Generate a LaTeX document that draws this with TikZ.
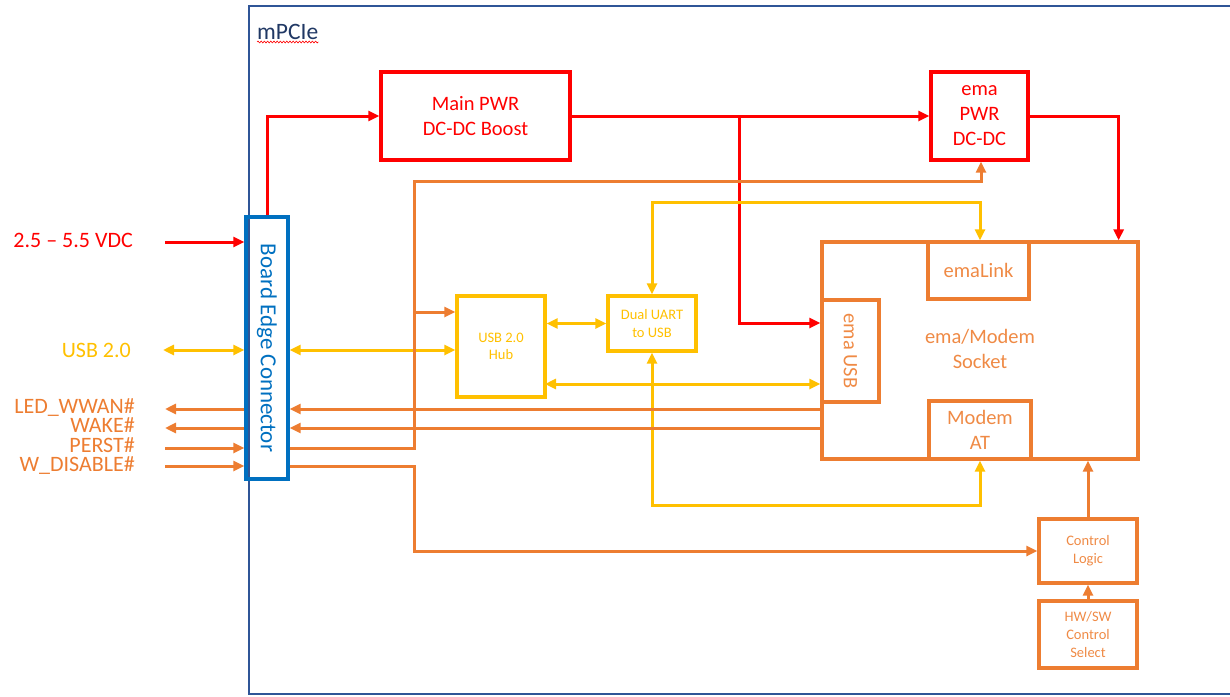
\documentclass[tikz,border=0pt]{standalone}
\usepackage{fontspec}
\setmainfont{Carlito}
\usetikzlibrary{arrows.meta,calc,decorations.pathmorphing}
\definecolor{cRed}{HTML}{FF0000}
\definecolor{cOrange}{HTML}{ED7D31}
\definecolor{cOrangeT}{HTML}{EF8A45}
\definecolor{cYellow}{HTML}{FFC000}
\definecolor{cBlue}{HTML}{0070C0}
\definecolor{cFrame}{HTML}{2F5597}
\definecolor{cTitle}{HTML}{203864}
\tikzset{
  box/.style={draw, line width=3.3pt, inner sep=0pt, align=center, rectangle},
  redbox/.style={box, draw=cRed, text=cRed, font=\fontsize{20.5}{25}\selectfont},
  orbox/.style={box, draw=cOrange, text=cOrangeT, font=\fontsize{20.5}{24.5}\selectfont},
  orsmall/.style={box, draw=cOrange, text=cOrangeT, font=\fontsize{14.5}{17.8}\selectfont},
  yebox/.style={box, draw=cYellow, text=cYellow, font=\fontsize{14.5}{17.5}\selectfont},
  conn/.style={line width=3pt, -{Triangle[length=11pt,width=10pt]}},
  bconn/.style={line width=3pt, {Triangle[length=11pt,width=10pt]}-{Triangle[length=11pt,width=10pt]}},
  lbl/.style={inner sep=0pt, font=\fontsize{22}{24}\selectfont, anchor=base east},
}
\begin{document}
\begin{tikzpicture}[x=1pt,y=-1pt]
\useasboundingbox (0,0) rectangle (1230,696);
% outer frame
\draw[cFrame, line width=2.8pt] (1232,6) -- (249,6) -- (249,694) -- (1232,694);
\node[inner sep=0pt, anchor=base west, text=cTitle, font=\fontsize{23.5}{26}\selectfont] (title) at (257,39) {mPCIe};
\draw[cRed, line width=0.6pt, decorate, decoration={snake, amplitude=0.9pt, segment length=3.2pt}] ([yshift=-3pt]title.base west) -- ([yshift=-3pt]title.base east);

% board edge connector
\node[box, draw=cBlue, minimum width=42pt, minimum height=262pt] (bec) at (267,348) {};
\node[text=cBlue, rotate=-90, inner sep=0pt, font=\fontsize{23}{25}\selectfont] (becl) at (bec.center) {Board Edge Connector};

% power boxes
\node[redbox, minimum width=189pt, minimum height=88pt] (mainpwr) at (475.5,116) {Main PWR\\DC-DC Boost};
\node[redbox, minimum width=97pt, minimum height=88pt] (emapwr) at (979.5,116) {ema\\PWR\\DC-DC};

% socket
\node[orbox, minimum width=316pt, minimum height=217pt] (socket) at (980,350.5) {};
\node[inner sep=0pt, align=center, text=cOrangeT, font=\fontsize{20.5}{25}\selectfont] (socketl) at (980,349) {ema/Modem\\Socket};
\node[orbox, minimum width=101pt, minimum height=57pt] (emalink) at (978.5,270.5) {emaLink};
\node[orbox, minimum width=57pt, minimum height=102pt] (emausb) at (850.5,351) {};
\node[text=cOrangeT, rotate=-90, inner sep=0pt, font=\fontsize{20.5}{24}\selectfont] (emausbl) at (emausb.center) {ema USB};
\node[orbox, minimum width=102pt, minimum height=58pt] (modemat) at (980,430) {Modem\\AT};

% USB hub & UART
\node[yebox, minimum width=88pt, minimum height=101pt] (hub) at (501,346.5) {USB 2.0\\Hub};
\node[yebox, minimum width=88pt, minimum height=55pt] (uart) at (652,323.5) {Dual UART\\to USB};

% control
\node[orsmall, minimum width=98pt, minimum height=64pt] (ctrl) at (1088,551) {Control\\Logic};
\node[orsmall, minimum width=98pt, minimum height=67pt] (hwsw) at (1088,634.5) {HW/SW\\Control\\Select};

% left labels
\node[lbl, text=cRed] (lvdc) at (133,247) {2.5 – 5.5 VDC};
\node[lbl, text=cYellow] (lusb) at (131,357) {USB 2.0};
\node[lbl, text=cOrange] (lled) at (135,413) {LED\_WWAN\#};
\node[lbl, text=cOrange] (lwake) at (135,432) {WAKE\#};
\node[lbl, text=cOrange] (lperst) at (135,452) {PERST\#};
\node[lbl, text=cOrange] (lwd) at (135,471) {W\_DISABLE\#};

% free ends / junctions
\coordinate (inVDC) at (165,242);
\coordinate (inUSB) at (163,350);
\coordinate (inLED) at (165,409);
\coordinate (inWAKE) at (165,428);
\coordinate (inPERST) at (165,448);
\coordinate (inWD) at (165,466);
\coordinate (jP) at (739,116);
\coordinate (jO1) at (414,181);
\coordinate (jO2) at (414,312);
\coordinate (jO3) at (414,551);
\coordinate (jHS) at (545,384);

% red connectors
\draw[conn, cRed] (inVDC) -- (bec.west |- inVDC);
\draw[conn, cRed] (bec.north) |- (mainpwr.west);
\draw[conn, cRed] (mainpwr.east) -- (emapwr.west);
\draw[conn, cRed] (jP) |- ([yshift=28pt]emausb.west);
\draw[conn, cRed] (emapwr.east) -| ([xshift=-21pt]socket.north east);

% yellow connectors
\draw[bconn, cYellow] (inUSB) -- (bec.west |- inUSB);
\draw[bconn, cYellow] (bec.east |- inUSB) -- (hub.west |- inUSB);
\draw[bconn, cYellow] (hub.east |- uart.west) -- (uart.west);
\draw[bconn, cYellow] (jHS) -- (socket.west |- jHS);
\draw[bconn, cYellow] (uart.north) -- ++(0,-92) -| ([xshift=1.5pt]emalink.north);
\draw[bconn, cYellow] (uart.south) -- ++(0,153) -| (modemat.south);

% orange connectors
\draw[conn, cOrange] (bec.west |- inLED) -- (inLED);
\draw[conn, cOrange] (bec.west |- inWAKE) -- (inWAKE);
\draw[conn, cOrange] (inPERST) -- (bec.west |- inPERST);
\draw[conn, cOrange] (inWD) -- (bec.west |- inWD);
\draw[conn, cOrange] (socket.west |- inLED) -- (bec.east |- inLED);
\draw[conn, cOrange] (socket.west |- inWAKE) -- (bec.east |- inWAKE);
\draw[conn, cOrange] (bec.east |- inPERST) -| (jO1) -| ([xshift=1.5pt]emapwr.south);
\draw[conn, cOrange] (jO2) -- (hub.west |- jO2);
\draw[conn, cOrange] (bec.east |- inWD) -| (jO3) -- (ctrl.west);
\draw[conn, cOrange] (ctrl.north) -- (ctrl.north |- socket.south);
\draw[conn, cOrange] (hwsw.north) -- (ctrl.south);
\end{tikzpicture}
\end{document}
